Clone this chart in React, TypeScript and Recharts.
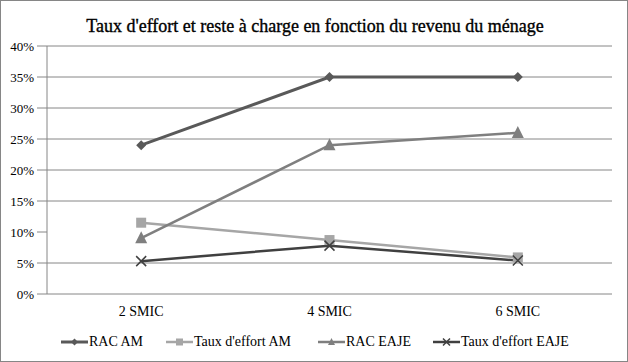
import React from "react";
import { LineChart, Line, XAxis, YAxis, CartesianGrid, Legend } from "recharts";

const categories = ["2 SMIC", "4 SMIC", "6 SMIC"];
const racAM = [0.24, 0.35, 0.35];
const tauxAM = [0.115, 0.087, 0.059];
const racEAJE = [0.09, 0.24, 0.26];
const tauxEAJE = [0.053, 0.078, 0.054];
const yTicks = [0, 0.05, 0.1, 0.15, 0.2, 0.25, 0.3, 0.35, 0.4];
const gridValues = [0.05, 0.15, 0.2, 0.25, 0.3, 0.35, 0.4];
const boundaryTicks = [0, 1, 2, 3];

const data = categories.map((c, i) => ({
  cat: c,
  idx: i + 0.5,
  racAM: racAM[i],
  tauxAM: tauxAM[i],
  racEAJE: racEAJE[i],
  tauxEAJE: tauxEAJE[i],
}));

const FONT = "'Liberation Serif', 'Times New Roman', serif";

type Shape = "diamond" | "square" | "triangle" | "x";

const series: { key: string; name: string; color: string; width: number; shape: Shape }[] = [
  { key: "racAM", name: "RAC AM", color: "#595959", width: 3, shape: "diamond" },
  { key: "tauxAM", name: "Taux d'effort AM", color: "#A6A6A6", width: 2.5, shape: "square" },
  { key: "racEAJE", name: "RAC EAJE", color: "#7F7F7F", width: 2.5, shape: "triangle" },
  { key: "tauxEAJE", name: "Taux d'effort EAJE", color: "#404040", width: 2.5, shape: "x" },
];

function marker(shape: Shape, cx: number, cy: number, color: string, s: number, key?: string) {
  if (shape === "diamond") {
    return <path key={key} d={`M${cx},${cy - s} L${cx + s},${cy} L${cx},${cy + s} L${cx - s},${cy} Z`} fill={color} />;
  }
  if (shape === "square") {
    return <rect key={key} x={cx - s} y={cy - s} width={2 * s} height={2 * s} fill={color} />;
  }
  if (shape === "triangle") {
    return <path key={key} d={`M${cx},${cy - s * 1.15} L${cx + s},${cy + s * 0.85} L${cx - s},${cy + s * 0.85} Z`} fill={color} />;
  }
  return (
    <path key={key} d={`M${cx - s},${cy - s} L${cx + s},${cy + s} M${cx - s},${cy + s} L${cx + s},${cy - s}`} stroke={color} strokeWidth={1.5} fill="none" />
  );
}

const makeDot = (shape: Shape, color: string, s: number) => (props: any) => {
  const { cx, cy, index } = props;
  if (cx == null || cy == null) return <g key={`d-${index}`} />;
  return <g key={`d-${index}`}>{marker(shape, cx, cy, color, s)}</g>;
};

const sizes: Record<Shape, number> = { diamond: 5, square: 5, triangle: 6, x: 5 };

const XTick = (props: any) => {
  const { x, y, payload } = props;
  return (
    <text x={x} y={y + 16} textAnchor="middle" fill="#000" fontFamily={FONT} style={{ fontFamily: FONT, fontSize: 14 }}>
      {categories[Math.round(payload.value - 0.5)]}
    </text>
  );
};

const YTick = (props: any) => {
  const { x, y, payload } = props;
  return (
    <text x={x} y={y + 4.5} textAnchor="end" fill="#000" fontFamily={FONT} style={{ fontFamily: FONT, fontSize: 13 }}>
      {`${Math.round(payload.value * 100)}%`}
    </text>
  );
};

const renderLegend = () => {
  const lefts = [60, 165, 317, 432];
  return (
    <div style={{ position: "relative", height: 20, fontFamily: FONT, fontSize: 14, color: "#000" }}>
      {series.map((s, i) => (
        <div key={s.key} style={{ position: "absolute", left: lefts[i], top: 0, display: "flex", alignItems: "center", whiteSpace: "nowrap" }}>
          <svg width={27} height={14}>
            <line x1={0} y1={7} x2={27} y2={7} stroke={s.color} strokeWidth={s.width} />
            {marker(s.shape, 13.5, 7, s.color, 3.5)}
          </svg>
          <span style={{ marginLeft: 1 }}>{s.name}</span>
        </div>
      ))}
    </div>
  );
};

export default function App() {
  return (
    <div style={{ position: "absolute", left: 0, top: 0, width: 628, height: 362, boxSizing: "border-box", border: "1px solid #868686", background: "#fff" }}>
      <div style={{ position: "absolute", left: 0, top: 15, width: 628, textAlign: "center", fontFamily: FONT, fontSize: 18, color: "#000", WebkitTextStroke: "0.35px #000" }}>
        Taux d'effort et reste à charge en fonction du revenu du ménage
      </div>
      <div style={{ position: "absolute", left: 0, top: 0 }}>
        <LineChart width={626} height={360} data={data} margin={{ top: 45, right: 15, bottom: 16, left: 0 }}>
          <CartesianGrid horizontal vertical={false} horizontalValues={gridValues} stroke="#868686" strokeWidth={1} />
          <XAxis
            xAxisId="b"
            type="number"
            domain={[0, 3]}
            ticks={boundaryTicks}
            tick={false}
            axisLine={false}
            tickLine={{ stroke: "#868686" }}
            tickSize={4}
            height={1}
          />
          <XAxis
            dataKey="idx"
            type="number"
            domain={[0, 3]}
            ticks={[0.5, 1.5, 2.5]}
            axisLine={{ stroke: "#868686" }}
            tickLine={false}
            tickMargin={0}
            height={30}
            tick={<XTick />}
            interval={0}
          />
          <YAxis
            width={46}
            domain={[0, 0.4]}
            ticks={yTicks}
            axisLine={{ stroke: "#868686" }}
            tickLine={{ stroke: "#868686" }}
            tickSize={10}
            tickMargin={3}
            tick={<YTick />}
            interval={0}
          />
          {series.map((s) => (
            <Line
              key={s.key}
              dataKey={s.key}
              name={s.name}
              stroke={s.color}
              strokeWidth={s.width}
              isAnimationActive={false}
              dot={makeDot(s.shape, s.color, sizes[s.shape])}
              activeDot={false}
            />
          ))}
          <Legend verticalAlign="bottom" align="left" height={20} content={renderLegend} wrapperStyle={{ left: 0, bottom: 7, width: 626 }} />
        </LineChart>
      </div>
    </div>
  );
}
